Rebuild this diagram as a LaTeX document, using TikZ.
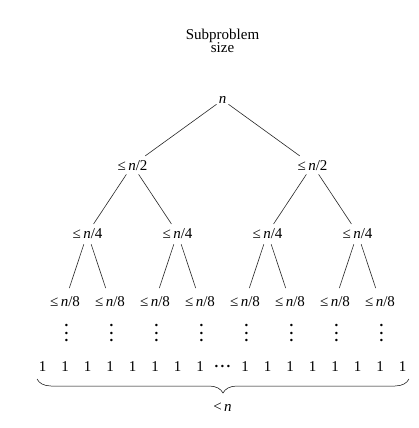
\documentclass[tikz,border=0pt]{standalone}
\usepackage{fontspec}
\setmainfont{Liberation Serif}
\usetikzlibrary{positioning, decorations.pathreplacing}

\newcommand{\tallvdots}{\vbox{\bfseries\baselineskip=7.5pt\lineskiplimit=0pt\hbox{.}\hbox{.}\hbox{.}}}
\newcommand{\tallcdots}{\raisebox{3.5pt}{\bfseries.\kern2.2pt.\kern2.2pt.}}

\begin{document}
\begin{tikzpicture}[
    x=1pt, y=-1pt,
    size/.style={
        font=\fontsize{15}{13.5}\selectfont,
        anchor=base,
        inner xsep=2pt,
        inner ysep=4pt
    },
    edge/.style={
        draw=black!85,
        line width=0.6pt
    },
    leafedge/.style={
        edge,
        shorten <=2pt,
        shorten >=4pt
    },
    mybrace/.style={
        decorate,
        decoration={brace, mirror, amplitude=14pt},
        line width=0.5pt
    }
]

\useasboundingbox (0,0) rectangle (419,428);

% Title
\node[size, align=center, anchor=center] (title) at (222.5,41) {Subproblem\\size};

% Tree levels
\node[size] (root) at (222.5,103.5) {\textit{n}};
\foreach \i/\x in {1/132.5, 2/312.5}
    \node[size] (half\i) at (\x,170) {≤\,\textit{n}/2};
\foreach \i/\x in {1/87.5, 2/177.5, 3/267.5, 4/357.5}
    \node[size] (quarter\i) at (\x,238) {≤\,\textit{n}/4};
\foreach \i in {1,...,8} {
    \node[size] (eighth\i) at (20+45*\i,306) {≤\,\textit{n}/8};
    \node[size, anchor=center, inner sep=0pt] (dots\i) at (21.5+45*\i,333) {\tallvdots};
}

% Edges
\foreach \p/\c in {root/half1, root/half2, half1/quarter1, half1/quarter2, half2/quarter3, half2/quarter4}
    \draw[edge] (\p) -- (\c);
\foreach \p/\c in {quarter1/eighth1, quarter1/eighth2, quarter2/eighth3, quarter2/eighth4,
                   quarter3/eighth5, quarter3/eighth6, quarter4/eighth7, quarter4/eighth8}
    \draw[leafedge] (\p) -- (\c);

% Base cases
\foreach \i in {0,...,7} {
    \node[size] (oneL\i) at (42.5+22.5*\i,371) {1};
    \node[size] (oneR\i) at (245+22.5*\i,371) {1};
}
\node[size] (more) at (222.5,371) {\tallcdots};

% Brace
\coordinate (braceL) at (37,379);
\coordinate (braceR) at (409,379);
\draw[mybrace] (braceL) -- (braceR);
\node[size] (count) at (222.5,411) {<\,\textit{n}};

\end{tikzpicture}
\end{document}
